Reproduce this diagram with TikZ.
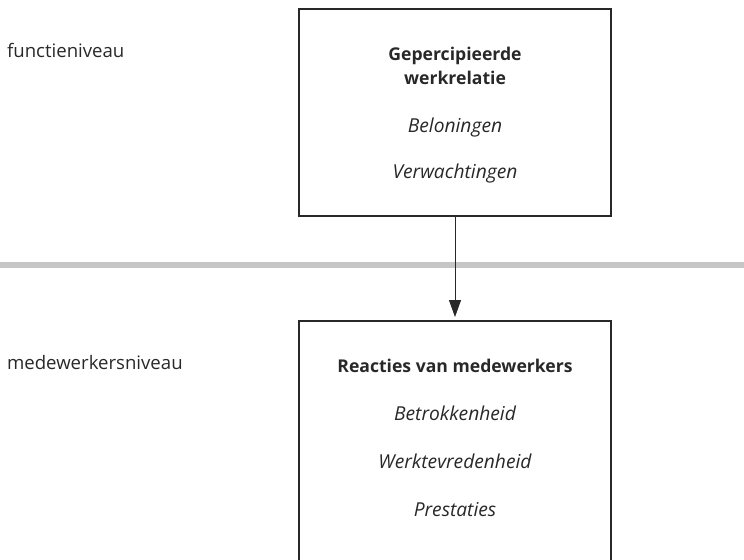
\documentclass[tikz,border=0pt]{standalone}
\usepackage{fontspec}
\setmainfont{Open Sans}
\usetikzlibrary{arrows.meta, positioning}
\definecolor{levelgray}{RGB}{198,198,198}
\definecolor{inkgray}{RGB}{40,40,40}
\newcommand{\kopregel}[1]{{\fontsize{8.8}{12}\selectfont\bfseries #1}}
\newcommand{\aspect}[1]{{\fontsize{9.6}{12}\selectfont\itshape #1}}

\begin{document}
\begin{tikzpicture}[
      x=0.5pt, y=-0.5pt,
      font=\fontsize{9}{12}\selectfont,
      text=inkgray,
      box/.style={
          rectangle,
          draw=inkgray,
          line width=0.8pt,
          align=center,
          minimum width=156pt,
          inner xsep=4pt,
          inner ysep=19pt
        },
      level/.style={
          anchor=west,
          font=\fontsize{9.3}{12}\selectfont
        },
      divider/.style={
          draw=levelgray,
          line width=3pt
        },
      arrow/.style={
          -{Triangle[length=8.5pt,width=6pt]},
          draw=inkgray,
          line width=0.5pt,
          shorten >=1.5pt
        }
    ]

    \useasboundingbox (0,0) rectangle (744,559);
    \clip (0,0) rectangle (744,559);

    % Levels
    \node[level] (functie) at (0,50) {functieniveau};
    \node[level] (medewerker) at (0,363) {medewerkersniveau};
    \coordinate (lijnL) at (0,265);
    \coordinate (lijnR) at (744,265);
    \draw[divider] (lijnL) -- (lijnR);

    % Boxes
    \node[box, anchor=north, text depth=-2pt] (relatie) at (455,8)
      {\kopregel{Gepercipieerde}\\\kopregel{werkrelatie}\\[12pt]
       \aspect{Beloningen}\\[11pt]\aspect{Verwachtingen}};
    \node[box, anchor=north] (reacties) at (455,320)
      {\kopregel{Reacties van medewerkers}\\[12pt]\aspect{Betrokkenheid}\\[12pt]
       \aspect{Werktevredenheid}\\[12pt]\aspect{Prestaties}\\[40pt]\mbox{}};

    % Arrows
    \draw[arrow] (relatie) -- (reacties);

  \end{tikzpicture}
\end{document}
